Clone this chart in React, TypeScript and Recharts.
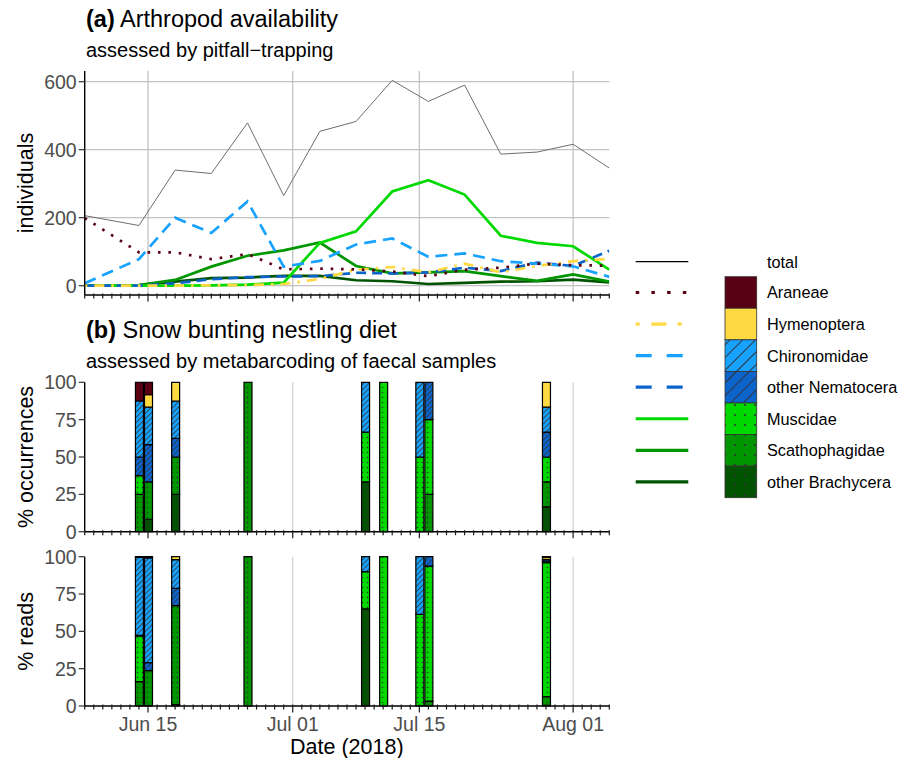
import React from 'react';
import { LineChart, Line, XAxis, YAxis, CartesianGrid, BarChart, Bar } from 'recharts';

const DAY = 86400000;
const toDay = (s: string) => Date.UTC(+s.slice(0, 4), +s.slice(5, 7) - 1, +s.slice(8, 10)) / DAY;

// ---------- axis settings ----------
const xStart = '2018-06-08';
const xEnd = '2018-08-05';
const majorDates = ['2018-06-15', '2018-07-01', '2018-07-15', '2018-08-01'];
const majorLabels = ['Jun 15', 'Jul 01', 'Jul 15', 'Aug 01'];
const countTicks = [0, 200, 400, 600];
const pctTicks = [0, 25, 50, 75, 100];

// ---------- (a) pitfall trapping ----------
const trapDates = ['2018-06-08', '2018-06-14', '2018-06-18', '2018-06-22', '2018-06-26', '2018-06-30', '2018-07-04', '2018-07-08', '2018-07-12', '2018-07-16', '2018-07-20', '2018-07-24', '2018-07-28', '2018-08-01', '2018-08-05'];
const trapTotal = [206, 177, 340, 330, 479, 265, 454, 483, 604, 542, 590, 387, 393, 416, 346];
const trapAraneae = [199, 98, 98, 78, 93, 48, 50, 48, 42, 28, 47, 53, 65, 60, 59];
const trapHymenoptera = [0, 0, 0, 1, 2, 5, 20, 47, 55, 39, 65, 39, 58, 72, 79];
const trapChironomidae = [7, 78, 200, 155, 248, 56, 73, 121, 139, 85, 95, 72, 65, 57, 26];
const trapOtherNematocera = [0, 0, 7, 19, 25, 27, 28, 38, 36, 39, 53, 43, 68, 58, 103];
const trapMuscidae = [0, 0, 0, 1, 3, 9, 126, 160, 277, 310, 268, 147, 126, 116, 47];
const trapScathophagidae = [0, 2, 17, 56, 88, 104, 127, 58, 36, 39, 43, 28, 14, 33, 12];
const trapOtherBrachycera = [1, 2, 12, 22, 24, 29, 29, 16, 13, 5, 8, 12, 13, 18, 10];

// ---------- (b) faecal samples ----------
const sampleDates = ['2018-06-14', '2018-06-15', '2018-06-18', '2018-06-26', '2018-07-09', '2018-07-11', '2018-07-15', '2018-07-16', '2018-07-29'];
// % occurrences
const occAraneae = [12.5, 8.33, 0, 0, 0, 0, 0, 0, 0];
const occHymenoptera = [0, 8.33, 12.5, 0, 0, 0, 0, 0, 16.67];
const occChironomidae = [37.5, 25, 25, 0, 33.33, 0, 50, 0, 16.67];
const occOtherNematocera = [12.5, 25, 12.5, 0, 0, 0, 0, 25, 16.67];
const occMuscidae = [12.5, 0, 0, 0, 33.33, 100, 50, 50, 16.67];
const occScathophagidae = [25, 25, 25, 100, 0, 0, 0, 25, 16.67];
const occOtherBrachycera = [0, 8.33, 25, 0, 33.34, 0, 0, 0, 16.65];
// % reads
const readsAraneae = [0.4, 0.4, 0, 0, 0, 0, 0, 0, 0.3];
const readsHymenoptera = [0, 0.4, 2.0, 0, 0, 0, 0, 0, 1.5];
const readsChironomidae = [52.3, 70.2, 19.2, 0, 10, 0, 38.6, 0, 1.0];
const readsOtherNematocera = [0.4, 5.3, 11.6, 0, 0, 0, 0, 6.25, 1.2];
const readsMuscidae = [30.6, 0, 0, 0, 25, 100, 61.4, 90.45, 89.75];
const readsScathophagidae = [16.3, 23.4, 66.2, 100, 0, 0, 0, 3.3, 5.75];
const readsOtherBrachycera = [0, 0.3, 1.0, 0, 65, 0, 0, 0, 0.5];

// ---------- series styling ----------
type Series = { key: string; name: string; color: string; dash?: string; legendDash?: string; pattern: 'solid' | 'hatch' | 'dots' };
const taxa: Series[] = [
  { key: 'araneae', name: 'Araneae', color: '#5a0014', dash: '2.6 7.8', legendDash: '3.5 12.2', pattern: 'solid' },
  { key: 'hymenoptera', name: 'Hymenoptera', color: '#ffd942', dash: '2.6 7 10 7', legendDash: '4 11.7 15 11.3 4 30', pattern: 'solid' },
  { key: 'chironomidae', name: 'Chironomidae', color: '#17a2ff', dash: '12 7', legendDash: '16 15', pattern: 'hatch' },
  { key: 'otherNematocera', name: 'other Nematocera', color: '#0a64cc', dash: '10 6', legendDash: '16 15', pattern: 'hatch' },
  { key: 'muscidae', name: 'Muscidae', color: '#00d900', pattern: 'dots' },
  { key: 'scathophagidae', name: 'Scathophagidae', color: '#009600', pattern: 'dots' },
  { key: 'otherBrachycera', name: 'other Brachycera', color: '#005300', pattern: 'dots' },
];

const trapSeries: Record<string, number[]> = {
  araneae: trapAraneae, hymenoptera: trapHymenoptera, chironomidae: trapChironomidae,
  otherNematocera: trapOtherNematocera, muscidae: trapMuscidae, scathophagidae: trapScathophagidae,
  otherBrachycera: trapOtherBrachycera,
};
const occSeries: Record<string, number[]> = {
  araneae: occAraneae, hymenoptera: occHymenoptera, chironomidae: occChironomidae,
  otherNematocera: occOtherNematocera, muscidae: occMuscidae, scathophagidae: occScathophagidae,
  otherBrachycera: occOtherBrachycera,
};
const readsSeries: Record<string, number[]> = {
  araneae: readsAraneae, hymenoptera: readsHymenoptera, chironomidae: readsChironomidae,
  otherNematocera: readsOtherNematocera, muscidae: readsMuscidae, scathophagidae: readsScathophagidae,
  otherBrachycera: readsOtherBrachycera,
};

const d0 = toDay(xStart);
const d1 = toDay(xEnd);
const allDays: number[] = [];
for (let d = d0; d <= d1; d++) allDays.push(d);
const majorDays = majorDates.map(toDay);

const trapRows = trapDates.map((s, i) => {
  const r: any = { t: toDay(s), total: trapTotal[i] };
  taxa.forEach((tx) => (r[tx.key] = trapSeries[tx.key][i]));
  return r;
});
const makeBarRows = (src: Record<string, number[]>) =>
  sampleDates.map((s, i) => {
    const r: any = { t: toDay(s) };
    taxa.forEach((tx) => (r[tx.key] = src[tx.key][i]));
    return r;
  });
const occRows = makeBarRows(occSeries);
const readsRows = makeBarRows(readsSeries);

const FONT = "'Liberation Sans', Arial, Helvetica, sans-serif";
const W = 620;
const PLOT_LEFT = 84.7;
const RIGHT_M = W - 609.3;

const makeTick = (showLabels: boolean) => (props: any) => {
  const { x, y, payload } = props;
  const idx = majorDays.indexOf(payload.value);
  const major = idx >= 0;
  return (
    <g>
      <line x1={x} x2={x} y1={y - 1.5} y2={y + (major ? 6.5 : 3.5)} stroke="#1a1a1a" strokeWidth={1.2} />
      {showLabels && major ? (
        <text x={x} y={y + 24.5} textAnchor="middle" fontSize={19.5} fill="#4d4d4d" fontFamily={FONT}>
          {majorLabels[idx]}
        </text>
      ) : null}
    </g>
  );
};

const yTickStyle = { fill: '#4d4d4d', fontSize: 19.5, fontFamily: FONT };

const Patterns = () => (
  <svg width={0} height={0} style={{ position: 'absolute' }}>
    <defs>
      {taxa.map((tx) => {
        if (tx.pattern === 'hatch') {
          return [
            <pattern key={tx.key + 's'} id={`pat-${tx.key}`} width={3.8} height={3.8} patternUnits="userSpaceOnUse" patternTransform="rotate(45)">
              <rect width={3.8} height={3.8} fill={tx.color} />
              <line x1={0} y1={0} x2={0} y2={3.8} stroke="#333" strokeWidth={1.6} />
            </pattern>,
            <pattern key={tx.key + 'l'} id={`patL-${tx.key}`} width={9} height={9} patternUnits="userSpaceOnUse" patternTransform="rotate(45)">
              <rect width={9} height={9} fill={tx.color} />
              <line x1={0} y1={0} x2={0} y2={9} stroke="#333" strokeWidth={2} />
            </pattern>,
          ];
        }
        if (tx.pattern === 'dots') {
          return [
            <pattern key={tx.key + 's'} id={`pat-${tx.key}`} width={5} height={5} patternUnits="userSpaceOnUse">
              <rect width={5} height={5} fill={tx.color} />
              <circle cx={2.5} cy={2.5} r={0.8} fill="#333" />
            </pattern>,
            <pattern key={tx.key + 'l'} id={`patL-${tx.key}`} width={10} height={10} patternUnits="userSpaceOnUse">
              <rect width={10} height={10} fill={tx.color} />
              <circle cx={5} cy={5} r={1.1} fill="#333" />
            </pattern>,
          ];
        }
        return [
          <pattern key={tx.key + 's'} id={`pat-${tx.key}`} width={5} height={5} patternUnits="userSpaceOnUse">
            <rect width={5} height={5} fill={tx.color} />
          </pattern>,
          <pattern key={tx.key + 'l'} id={`patL-${tx.key}`} width={5} height={5} patternUnits="userSpaceOnUse">
            <rect width={5} height={5} fill={tx.color} />
          </pattern>,
        ];
      })}
    </defs>
  </svg>
);

const stackOrder = [...taxa].reverse();

const BarPanel = ({ rows, top, height, mTop, mBottom, xH, labels }: any) => (
  <div style={{ position: 'absolute', left: 0, top }}>
    <BarChart width={W} height={height} data={rows} margin={{ top: mTop, right: RIGHT_M, left: 0, bottom: mBottom }} barGap={0}>
      <CartesianGrid horizontal={false} verticalValues={majorDays} syncWithTicks stroke="#d4d4d4" strokeWidth={1.3} />
      <XAxis
        type="number"
        dataKey="t"
        domain={[d0, d1]}
        allowDataOverflow
        ticks={allDays}
        interval={0}
        tickLine={false}
        tickSize={0}
        tickMargin={0}
        tick={makeTick(labels)}
        axisLine={{ stroke: '#000', strokeWidth: 1.4 }}
        height={xH}
      />
      <YAxis
        type="number"
        domain={[0, 100]}
        ticks={pctTicks}
        interval={0}
        width={PLOT_LEFT}
        tick={yTickStyle}
        tickSize={6}
        tickMargin={2}
        tickLine={{ stroke: '#333', strokeWidth: 1.2 }}
        axisLine={{ stroke: '#000', strokeWidth: 1.4 }}
      />
      {stackOrder.map((tx) => (
        <Bar
          key={tx.key}
          dataKey={tx.key}
          name={tx.name}
          stackId="a"
          fill={`url(#pat-${tx.key})`}
          stroke="#000"
          strokeWidth={1.2}
          barSize={8}
          isAnimationActive={false}
        />
      ))}
    </BarChart>
  </div>
);

export default function App() {
  const legendTop = 276.7;
  const rowH = 31.57;
  return (
    <div style={{ position: 'absolute', left: 0, top: 0, width: 909, height: 758, background: '#fff', fontFamily: FONT }}>
      <Patterns />
      {/* (a) line chart */}
      <div style={{ position: 'absolute', left: 0, top: 0 }}>
        <LineChart width={W} height={320} data={trapRows} margin={{ top: 71, right: RIGHT_M, left: 0, bottom: 15 }}>
          <CartesianGrid verticalValues={majorDays} syncWithTicks stroke="#c2c2c2" strokeWidth={1.3} />
          <XAxis
            type="number"
            dataKey="t"
            domain={[d0, d1]}
            allowDataOverflow
            ticks={allDays}
            interval={0}
            tickLine={false}
            tickSize={0}
            tickMargin={0}
            tick={makeTick(false)}
            axisLine={{ stroke: '#000', strokeWidth: 1.4 }}
            height={10}
          />
          <YAxis
            type="number"
            domain={[-27.4, 631.5]}
            allowDataOverflow
            ticks={countTicks}
            interval={0}
            width={PLOT_LEFT}
            tick={yTickStyle}
            tickSize={6}
            tickMargin={2}
            tickLine={{ stroke: '#333', strokeWidth: 1.2 }}
            axisLine={{ stroke: '#000', strokeWidth: 1.4 }}
          />
          <Line type="linear" dataKey="total" name="total" stroke="#6e6e6e" strokeWidth={1} dot={false} isAnimationActive={false} />
          {stackOrder.map((tx) => (
            <Line
              key={tx.key}
              type="linear"
              dataKey={tx.key}
              name={tx.name}
              stroke={tx.color}
              strokeWidth={2.7}
              strokeDasharray={tx.dash}
              dot={false}
              isAnimationActive={false}
            />
          ))}
        </LineChart>
      </div>

      <BarPanel rows={occRows} top={370} height={180} mTop={12.3} mBottom={13.3} xH={5} labels={false} />
      <BarPanel rows={readsRows} top={545} height={213} mTop={11.7} mBottom={42} xH={10} labels={true} />

      {/* text & legend overlay */}
      <svg width={909} height={758} style={{ position: 'absolute', left: 0, top: 0, pointerEvents: 'none' }} fontFamily={FONT}>
        <text x={86} y={27} fontSize={23.5} fill="#000">
          <tspan fontWeight="bold">(a)</tspan> Arthropod availability
        </text>
        <text x={86} y={57} fontSize={20} fill="#000">assessed by pitfall−trapping</text>
        <text x={86} y={338} fontSize={23.5} fill="#000">
          <tspan fontWeight="bold">(b)</tspan> Snow bunting nestling diet
        </text>
        <text x={86} y={368} fontSize={20} fill="#000">assessed by metabarcoding of faecal samples</text>

        <text transform="translate(33,183) rotate(-90)" textAnchor="middle" fontSize={21.5} fill="#000">individuals</text>
        <text transform="translate(33,457) rotate(-90)" textAnchor="middle" fontSize={21.5} fill="#000">% occurrences</text>
        <text transform="translate(33,631.4) rotate(-90)" textAnchor="middle" fontSize={21.5} fill="#000">% reads</text>
        <text x={346.8} y={754} textAnchor="middle" fontSize={21.5} fill="#000">Date (2018)</text>

        {/* legend */}
        <line x1={635.7} x2={688.3} y1={261.7} y2={261.7} stroke="#000" strokeWidth={1.3} />
        <text x={767} y={261.7} fontSize={16.3} dominantBaseline="central" fill="#000">total</text>
        {taxa.map((tx, i) => {
          const cy = legendTop + rowH * i + rowH / 2;
          return (
            <g key={tx.key}>
              <line x1={635.7} x2={688.3} y1={cy} y2={cy} stroke={tx.color} strokeWidth={3.2} strokeDasharray={tx.legendDash} />
              <rect x={725} y={legendTop + rowH * i} width={31.7} height={rowH} fill={`url(#patL-${tx.key})`} stroke="#333" strokeWidth={0.8} />
              <text x={767} y={cy} fontSize={16.3} dominantBaseline="central" fill="#000">{tx.name}</text>
            </g>
          );
        })}
      </svg>
    </div>
  );
}
